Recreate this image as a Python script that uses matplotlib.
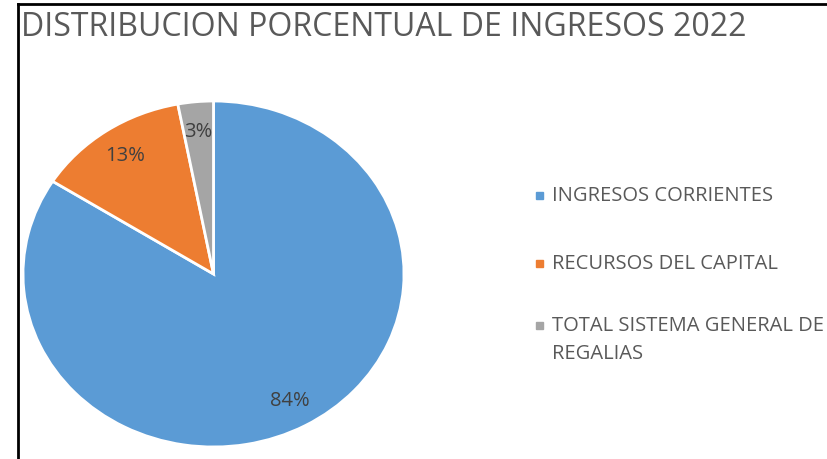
import matplotlib.pyplot as plt
from matplotlib.lines import Line2D
from matplotlib.patches import Rectangle

plt.rcParams['font.family'] = ['Open Sans', 'DejaVu Sans']

categorias = ["INGRESOS CORRIENTES", "RECURSOS DEL CAPITAL",
              "TOTAL SISTEMA GENERAL DE\nREGALIAS"]
porcentajes = [84, 13, 3]
colores = ["#5B9BD5", "#ED7D31", "#A5A5A5"]
texto_gris = "#595959"

fig = plt.figure(figsize=(8.28, 4.6), dpi=100)

# torta ligeramente achatada, como en el informe original
ax = fig.add_axes([23 / 828, 1 - 448 / 460, 381 / 828, 346 / 460])
wedges, textos, pcts = ax.pie(
    porcentajes, colors=colores, startangle=90, counterclock=False,
    autopct="%1.0f%%", pctdistance=0.83,
    wedgeprops=dict(edgecolor="white", linewidth=2),
    textprops=dict(color="#404040", fontsize=14.5))
ax.set_xlim(-1.0, 1.0)
ax.set_ylim(-1.0, 1.0)
ax.set_aspect("auto")
ax.axis("off")

fig.text(21 / 828, 1 - 27 / 460, "DISTRIBUCION PORCENTUAL DE INGRESOS 2022",
         fontsize=23, color=texto_gris, va="center", ha="left")

# leyenda a la derecha
filas_y = [196, 264, 326]
for nombre, color, y in zip(categorias, colores, filas_y):
    fig.add_artist(Rectangle((536 / 828, 1 - (y + 4) / 460), 7 / 828, 7 / 460,
                             transform=fig.transFigure, color=color))
    for i, linea in enumerate(nombre.split("\n")):
        fig.text(552 / 828, 1 - (y + 28 * i) / 460, linea, fontsize=14.5,
                 color=texto_gris, va="center", ha="left")

# marco del recuadro
fig.add_artist(Line2D([18 / 828, 1], [1 - 5 / 460, 1 - 5 / 460],
                      color="black", linewidth=2, transform=fig.transFigure))
fig.add_artist(Line2D([18 / 828, 18 / 828], [0, 1 - 5 / 460],
                      color="black", linewidth=2, transform=fig.transFigure))

fig.savefig("out.png", dpi=100)
